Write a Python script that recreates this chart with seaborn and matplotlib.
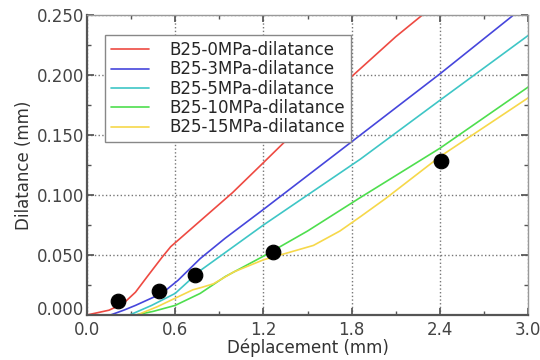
import matplotlib
matplotlib.use("Agg")
import matplotlib.pyplot as plt
import seaborn as sns
import pandas as pd
from matplotlib.ticker import MultipleLocator, FormatStrFormatter

# courbes
x_0mpa = [0, 0.075, 0.15, 0.22, 0.26, 0.33, 0.41, 0.51, 0.57, 0.71, 0.99, 1.2, 1.5, 1.82, 2.1, 2.3]
y_0mpa = [0, 0.002, 0.004, 0.008, 0.011, 0.019, 0.032, 0.048, 0.057, 0.072, 0.102, 0.127, 0.163, 0.201, 0.232, 0.252]
x_3mpa = [0.16, 0.25, 0.33, 0.51, 0.62, 0.77, 0.94, 1.2, 1.7, 2.4, 2.9]
y_3mpa = [0, 0.004, 0.008, 0.018, 0.029, 0.047, 0.064, 0.088, 0.135, 0.201, 0.25]
x_5mpa = [0.29, 0.44, 0.6, 0.77, 1.2, 1.86, 2.4, 3.0]
y_5mpa = [0, 0.008, 0.018, 0.037, 0.075, 0.130, 0.179, 0.233]
x_10mpa = [0.33, 0.45, 0.6, 0.77, 0.94, 1.2, 1.5, 1.86, 2.4, 3.0]
y_10mpa = [0, 0.003, 0.008, 0.018, 0.032, 0.049, 0.070, 0.098, 0.139, 0.19]
x_15mpa = [0.34, 0.48, 0.6, 0.72, 0.78, 0.86, 1.0, 1.2, 1.54, 1.72, 1.86, 2.03, 2.4, 3.0]
y_15mpa = [0, 0.007, 0.014, 0.021, 0.023, 0.026, 0.036, 0.046, 0.058, 0.070, 0.082, 0.097, 0.132, 0.181]

labels = ["B25-0MPa-dilatance", "B25-3MPa-dilatance", "B25-5MPa-dilatance",
          "B25-10MPa-dilatance", "B25-15MPa-dilatance"]
colors = ["#ee4a42", "#4646dc", "#3ec6c6", "#4ede4e", "#f6d84a"]

# points noirs
pts_x = [0.21, 0.49, 0.735, 1.265, 2.41]
pts_y = [0.0117, 0.020, 0.033, 0.0525, 0.128]

frames = []
for lab, xs, ys in zip(labels, [x_0mpa, x_3mpa, x_5mpa, x_10mpa, x_15mpa],
                       [y_0mpa, y_3mpa, y_5mpa, y_10mpa, y_15mpa]):
    frames.append(pd.DataFrame({"x": xs, "y": ys, "serie": lab}))
df = pd.concat(frames, ignore_index=True)

sns.set_theme(style="ticks")
plt.rcParams["font.family"] = ["DejaVu Sans"]

fig = plt.figure(figsize=(5.4, 3.6), dpi=100)
ax = fig.add_axes([0.161, 0.125, 0.817, 0.833])

sns.lineplot(data=df, x="x", y="y", hue="serie", hue_order=labels,
             palette=colors, sort=False, estimator=None, linewidth=1.2, ax=ax)
sns.scatterplot(x=pts_x, y=pts_y, color="black", s=110, zorder=5,
                edgecolor="black", legend=False, ax=ax)

ax.set_xlim(0, 3.0)
ax.set_ylim(0, 0.25)
ax.xaxis.set_major_locator(MultipleLocator(0.6))
ax.xaxis.set_minor_locator(MultipleLocator(0.3))
ax.yaxis.set_major_locator(MultipleLocator(0.05))
ax.yaxis.set_minor_locator(MultipleLocator(0.025))
ax.xaxis.set_major_formatter(FormatStrFormatter("%.1f"))
ax.yaxis.set_major_formatter(FormatStrFormatter("%.3f"))
ax.tick_params(which="both", direction="in", top=True, right=True,
               labelsize=12, colors="#555555", labelcolor="#444444")
ax.tick_params(which="major", length=5, pad=2)
ax.tick_params(axis="x", which="major", pad=4)
ax.tick_params(which="minor", length=3)
ax.grid(True, which="major", linestyle=":", color="#777777", linewidth=1.0)

for side in ["left", "bottom"]:
    ax.spines[side].set_color("#555555")
    ax.spines[side].set_linewidth(1.6)
for side in ["top", "right"]:
    ax.spines[side].set_color("#999999")
    ax.spines[side].set_linewidth(1.0)

ax.set_xlabel("Déplacement (mm)", fontsize=12, color="#333333", labelpad=0)
ax.set_ylabel("Dilatance (mm)", fontsize=12, color="#333333", labelpad=3)

leg = ax.legend(loc="upper left", bbox_to_anchor=(0.041, 0.933), fontsize=12,
                frameon=True, fancybox=False, edgecolor="#888888",
                handlelength=2.3, handletextpad=1.2, labelspacing=0.08,
                borderpad=0.35, borderaxespad=0)
leg.get_frame().set_linewidth(1.0)
leg.get_frame().set_alpha(1.0)

# remonter un peu le "0.000" pour qu'il ne chevauche pas le "0.0"
fig.canvas.draw()
for t in ax.get_yticklabels():
    if t.get_text() == "0.000":
        t.set_verticalalignment("baseline")

fig.savefig("out.png", dpi=100)
